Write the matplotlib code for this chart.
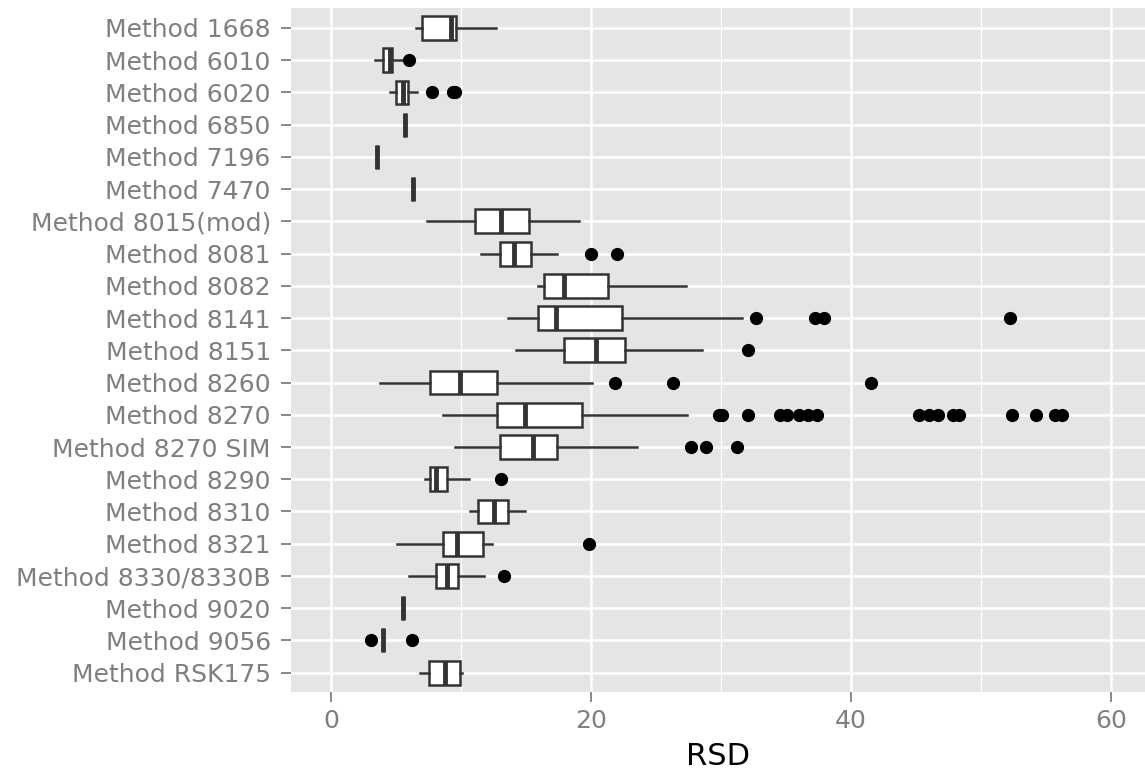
import numpy as np
import matplotlib.pyplot as plt
from matplotlib.ticker import MultipleLocator

# RSD summary per method
methods = ["Method 1668", "Method 6010", "Method 6020", "Method 6850", "Method 7196",
           "Method 7470", "Method 8015(mod)", "Method 8081", "Method 8082", "Method 8141",
           "Method 8151", "Method 8260", "Method 8270", "Method 8270 SIM", "Method 8290",
           "Method 8310", "Method 8321", "Method 8330/8330B", "Method 9020", "Method 9056",
           "Method RSK175"]
whislo = [6.5, 3.4, 4.5, 5.7, 3.56, 6.28, 7.4, 11.5, 15.9, 13.6, 14.2,
          3.8, 8.6, 9.5, 7.2, 10.7, 5.05, 6.0, 5.56, 4.0, 6.85]
q1 = [7.0, 4.0, 5.0, 5.7, 3.56, 6.28, 11.1, 13.0, 16.4, 15.9, 17.9,
      7.6, 12.8, 13.0, 7.6, 11.3, 8.6, 8.05, 5.56, 4.0, 7.5]
med = [9.2, 4.5, 5.5, 5.7, 3.56, 6.28, 13.1, 14.1, 17.9, 17.3, 20.4,
       9.9, 14.9, 15.5, 8.1, 12.5, 9.7, 8.9, 5.56, 4.0, 8.8]
q3 = [9.6, 4.7, 5.95, 5.7, 3.56, 6.28, 15.2, 15.4, 21.3, 22.4, 22.6,
      12.8, 19.3, 17.4, 8.9, 13.6, 11.7, 9.8, 5.56, 4.0, 9.9]
whishi = [12.7, 5.7, 6.6, 5.7, 3.56, 6.28, 19.1, 17.4, 27.3, 31.6, 28.5,
          20.1, 27.4, 23.5, 10.6, 14.95, 12.4, 11.8, 5.56, 4.0, 10.05]
outliers = [
    [], [6.0], [7.8, 9.4, 9.5], [], [], [], [], [20.0, 22.0], [],
    [32.7, 37.2, 37.9, 52.2], [32.1], [21.8, 26.3, 41.5],
    [29.8, 30.1, 32.1, 34.5, 35.1, 36.0, 36.7, 37.4, 45.2, 46.0, 46.7,
     47.8, 48.3, 52.4, 54.2, 55.7, 56.2],
    [27.7, 28.8, 31.2], [13.05], [], [19.85], [13.3], [], [3.1, 6.2], [],
]

stats = []
for i in range(len(methods)):
    stats.append(dict(label=methods[i], whislo=whislo[i], q1=q1[i], med=med[i],
                      q3=q3[i], whishi=whishi[i], fliers=outliers[i]))

fig = plt.figure(figsize=(11.45, 7.78), dpi=100)
ax = fig.add_axes([291 / 1145, 86 / 778, 854 / 1145, 684 / 778])
ax.set_facecolor("#E5E5E5")

pos = np.arange(len(methods))
edge = "#333333"
ax.bxp(stats, positions=pos, orientation="horizontal", widths=0.74,
       patch_artist=True, showcaps=False,
       boxprops=dict(facecolor="white", edgecolor=edge, linewidth=1.8),
       medianprops=dict(color=edge, linewidth=3.5, solid_capstyle="butt"),
       whiskerprops=dict(color=edge, linewidth=1.8),
       flierprops=dict(marker="o", markerfacecolor="black", markeredgecolor="black",
                       markersize=8.5, linestyle="none"))

ax.set_xlim(-3.08, 62.6)
ax.set_ylim(len(methods) - 0.4, -0.62)
ax.set_yticks(pos)
ax.set_yticklabels(methods)
ax.xaxis.set_major_locator(MultipleLocator(20))
ax.xaxis.set_minor_locator(MultipleLocator(10))

ax.set_axisbelow(True)
ax.grid(which="major", color="white", linewidth=1.8)
ax.grid(which="minor", axis="x", color="white", linewidth=0.9)
for s in ax.spines.values():
    s.set_visible(False)

ax.tick_params(axis="both", which="major", colors="#7F7F7F", labelsize=18,
               length=7.5, width=1.3)
ax.tick_params(axis="y", pad=7)
ax.tick_params(axis="x", pad=5)
ax.tick_params(which="minor", length=0)

ax.set_xlabel("RSD", fontsize=22, color="black", labelpad=6)

fig.savefig("out.png", dpi=100)
